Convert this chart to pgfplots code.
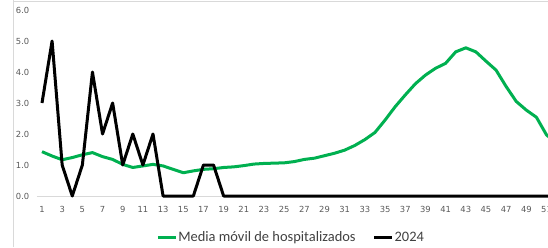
\documentclass[border=0pt]{standalone}
\usepackage{pgfplots}
\pgfplotsset{compat=1.18}
\usepackage{fontspec}
\setmainfont{Carlito}
\newfontfamily\tickfont{DejaVu Sans}
\definecolor{xgreen}{RGB}{0,176,80}
\definecolor{framegray}{RGB}{217,217,217}
\definecolor{ticktext}{RGB}{89,89,89}
\definecolor{legtext}{RGB}{64,64,64}
\begin{document}
\begin{tikzpicture}[x=1bp,y=1bp]
\useasboundingbox (0,0) rectangle (548,247);
\draw[framegray, line width=1bp] (13.5,0) -- (13.5,247);
\draw[framegray, line width=1bp] (13.5,245.5) -- (548,245.5);
\begin{axis}[
  at={(36.95bp,51bp)}, anchor=south west,
  scale only axis, width=524.7bp, height=186bp,
  xmin=0.5, xmax=52.5, ymin=0, ymax=6,
  separate axis lines,
  axis x line*=bottom, axis y line*=left,
  x axis line style={draw=framegray, line width=1bp, -},
  y axis line style={draw=none},
  xtick={1,3,...,51}, ytick={0,1,...,6},
  major tick length=0pt,
  /pgf/number format/assume math mode=true,
  yticklabel={\pgfmathprintnumber[fixed,fixed zerofill,precision=1]{\tick}},
  xticklabel style={font=\tickfont\fontsize{8.4}{9}\selectfont, text=ticktext, inner sep=0pt, anchor=north, yshift=-10bp},
  yticklabel style={font=\tickfont\fontsize{8.4}{9}\selectfont, text=ticktext, inner sep=0pt, anchor=east, xshift=-7.5bp},
  legend style={at={(0.2270,-0.2242)}, anchor=west, draw=none, fill=none, inner sep=0pt,
    font=\fontsize{14.5}{16}\selectfont, text=legtext, legend columns=2,
    /tikz/every even column/.append style={column sep=16bp},
    nodes={inner sep=1pt}},
  legend image code/.code={\draw[#1] (0bp,0bp) -- (18bp,0bp);},
  clip=false,
]
\addplot[xgreen, line width=3bp, line join=round] coordinates {
(1,1.43) (2,1.29) (3,1.17) (4,1.24) (5,1.33) (6,1.40) (7,1.27) (8,1.18) (9,1.02) (10,0.92)
(11,0.97) (12,1.02) (13,0.97) (14,0.86) (15,0.75) (16,0.81) (17,0.86) (18,0.88) (19,0.92) (20,0.94)
(21,0.98) (22,1.03) (23,1.05) (24,1.06) (25,1.07) (26,1.11) (27,1.18) (28,1.22) (29,1.30) (30,1.38)
(31,1.48) (32,1.63) (33,1.82) (34,2.05) (35,2.45) (36,2.88) (37,3.26) (38,3.62) (39,3.90) (40,4.12)
(41,4.28) (42,4.65) (43,4.78) (44,4.65) (45,4.35) (46,4.06) (47,3.53) (48,3.05) (49,2.77) (50,2.54)
(51,1.97) (52,1.70)};
\addlegendentry{Media móvil de hospitalizados}
\addplot[black, line width=3bp, line join=round] coordinates {
(1,3) (2,5) (3,1) (4,0) (5,1) (6,4) (7,2) (8,3) (9,1) (10,2)
(11,1) (12,2) (13,0) (14,0) (15,0) (16,0) (17,1) (18,1) (19,0) (20,0)
(21,0) (22,0) (23,0) (24,0) (25,0) (26,0) (27,0) (28,0) (29,0) (30,0)
(31,0) (32,0) (33,0) (34,0) (35,0) (36,0) (37,0) (38,0) (39,0) (40,0)
(41,0) (42,0) (43,0) (44,0) (45,0) (46,0) (47,0) (48,0) (49,0) (50,0)
(51,0) (52,0)};
\addlegendentry{2024}
\end{axis}
\end{tikzpicture}
\end{document}
